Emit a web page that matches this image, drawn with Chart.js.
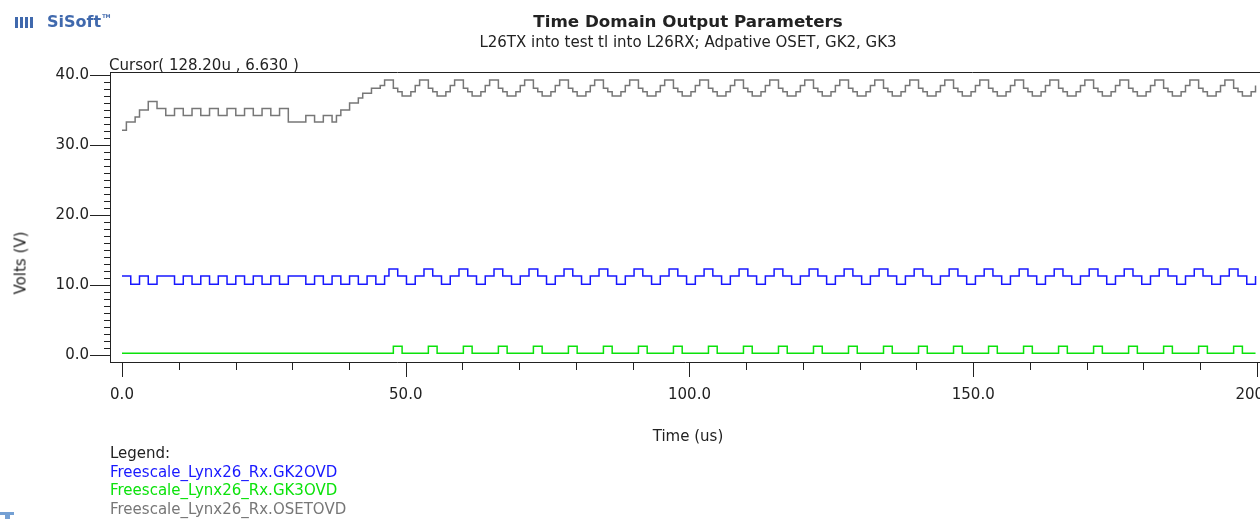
<!DOCTYPE html>
<html lang="en">
<head>
<meta charset="utf-8">
<title>Time Domain Output Parameters</title>
<script src="https://cdn.jsdelivr.net/npm/chart.js@4.4.1/dist/chart.umd.min.js"></script>
<style>
    html, body { margin: 0; padding: 0; background: #fff; overflow: hidden; }
    #page { position: relative; width: 1260px; height: 519px; font-family: 'DejaVu Sans', sans-serif; color: #222; }
    #page canvas { position: absolute; left: 0; top: 0; }
    .label { position: absolute; white-space: nowrap; font-size: 15px; line-height: 15px; }
    #title { left: 688px; top: 13px; font-size: 16.7px; line-height: 16.7px; font-weight: bold; transform: translateX(-50%); }
    #subtitle { left: 688px; top: 35px; transform: translateX(-50%); }
    #cursor { left: 109px; top: 58px; }
    #yTitle { left: 21px; top: 263px; transform: translate(-50%, -50%) rotate(-90deg); }
    #xTitle { left: 688px; top: 429px; transform: translateX(-50%); }
    #legend { position: absolute; left: 110px; top: 444px; font-size: 15px; line-height: 18.5px; white-space: nowrap; }
    #logo { position: absolute; left: 15px; top: 8px; font: bold 16px 'DejaVu Sans', sans-serif; color: #4069ad; line-height: 16px; }
    #logo .mark { display: inline-block; width: 20px; height: 11px; margin-right: 12px; vertical-align: -1px;
        background: repeating-linear-gradient(90deg, #4069ad 0 3px, transparent 3px 5px); }
    #logo sup { font-size: 5px; vertical-align: 9px; margin-left: 1px; }
    .tab-top { position: absolute; left: 0; top: 512px; width: 14px; height: 3px; background: #74a0d4; }
    .tab-stem { position: absolute; left: 5px; top: 515px; width: 5px; height: 4px; background: #74a0d4; }
</style>
</head>
<body>
<div id="page">
    <canvas id="timeDomainChart" width="1260" height="519"></canvas>
    <div id="logo"><span class="mark"></span>SiSoft<sup>TM</sup></div>
    <div id="title" class="label">Time Domain Output Parameters</div>
    <div id="subtitle" class="label">L26TX into test tl into L26RX; Adpative OSET, GK2, GK3</div>
    <div id="cursor" class="label">Cursor( 128.20u , 6.630 )</div>
    <div id="yTitle" class="label">Volts (V)</div>
    <div id="xTitle" class="label">Time (us)</div>
    <div id="legend"><div>Legend:</div></div>
    <div class="tab-top"></div><div class="tab-stem"></div>
</div>
<script>
// === DATA ===
// waveforms sampled every SAMPLE_US microseconds (8 samples per bit pattern period)
const SAMPLE_US = 0.7712;

const gk2Ovd = [
    11.3, 11.3, 10.1, 10.1, 11.3, 11.3, 10.1, 10.1, 11.3, 11.3, 11.3, 11.3, 10.1, 10.1, 11.3, 11.3,
    10.1, 10.1, 11.3, 11.3, 10.1, 10.1, 11.3, 11.3, 10.1, 10.1, 11.3, 11.3, 10.1, 10.1, 11.3, 11.3,
    10.1, 10.1, 11.3, 11.3, 10.1, 10.1, 11.3, 11.3, 11.3, 11.3, 10.1, 10.1, 11.3, 11.3, 10.1, 10.1,
    11.3, 11.3, 10.1, 10.1, 11.3, 11.3, 10.1, 10.1, 11.3, 11.3, 10.1, 10.1, 11.3, 12.3, 12.3, 11.3,
    11.3, 10.1, 10.1, 11.3, 11.3, 12.3, 12.3, 11.3, 11.3, 10.1, 10.1, 11.3, 11.3, 12.3, 12.3, 11.3,
    11.3, 10.1, 10.1, 11.3, 11.3, 12.3, 12.3, 11.3, 11.3, 10.1, 10.1, 11.3, 11.3, 12.3, 12.3, 11.3,
    11.3, 10.1, 10.1, 11.3, 11.3, 12.3, 12.3, 11.3, 11.3, 10.1, 10.1, 11.3, 11.3, 12.3, 12.3, 11.3,
    11.3, 10.1, 10.1, 11.3, 11.3, 12.3, 12.3, 11.3, 11.3, 10.1, 10.1, 11.3, 11.3, 12.3, 12.3, 11.3,
    11.3, 10.1, 10.1, 11.3, 11.3, 12.3, 12.3, 11.3, 11.3, 10.1, 10.1, 11.3, 11.3, 12.3, 12.3, 11.3,
    11.3, 10.1, 10.1, 11.3, 11.3, 12.3, 12.3, 11.3, 11.3, 10.1, 10.1, 11.3, 11.3, 12.3, 12.3, 11.3,
    11.3, 10.1, 10.1, 11.3, 11.3, 12.3, 12.3, 11.3, 11.3, 10.1, 10.1, 11.3, 11.3, 12.3, 12.3, 11.3,
    11.3, 10.1, 10.1, 11.3, 11.3, 12.3, 12.3, 11.3, 11.3, 10.1, 10.1, 11.3, 11.3, 12.3, 12.3, 11.3,
    11.3, 10.1, 10.1, 11.3, 11.3, 12.3, 12.3, 11.3, 11.3, 10.1, 10.1, 11.3, 11.3, 12.3, 12.3, 11.3,
    11.3, 10.1, 10.1, 11.3, 11.3, 12.3, 12.3, 11.3, 11.3, 10.1, 10.1, 11.3, 11.3, 12.3, 12.3, 11.3,
    11.3, 10.1, 10.1, 11.3, 11.3, 12.3, 12.3, 11.3, 11.3, 10.1, 10.1, 11.3, 11.3, 12.3, 12.3, 11.3,
    11.3, 10.1, 10.1, 11.3, 11.3, 12.3, 12.3, 11.3, 11.3, 10.1, 10.1, 11.3, 11.3, 12.3, 12.3, 11.3,
    11.3, 10.1, 10.1, 11.3
];

const gk3Ovd = [
    0.25, 0.25, 0.25, 0.25, 0.25, 0.25, 0.25, 0.25, 0.25, 0.25, 0.25, 0.25, 0.25, 0.25, 0.25, 0.25,
    0.25, 0.25, 0.25, 0.25, 0.25, 0.25, 0.25, 0.25, 0.25, 0.25, 0.25, 0.25, 0.25, 0.25, 0.25, 0.25,
    0.25, 0.25, 0.25, 0.25, 0.25, 0.25, 0.25, 0.25, 0.25, 0.25, 0.25, 0.25, 0.25, 0.25, 0.25, 0.25,
    0.25, 0.25, 0.25, 0.25, 0.25, 0.25, 0.25, 0.25, 0.25, 0.25, 0.25, 0.25, 0.25, 0.25, 1.25, 1.25,
    0.25, 0.25, 0.25, 0.25, 0.25, 0.25, 1.25, 1.25, 0.25, 0.25, 0.25, 0.25, 0.25, 0.25, 1.25, 1.25,
    0.25, 0.25, 0.25, 0.25, 0.25, 0.25, 1.25, 1.25, 0.25, 0.25, 0.25, 0.25, 0.25, 0.25, 1.25, 1.25,
    0.25, 0.25, 0.25, 0.25, 0.25, 0.25, 1.25, 1.25, 0.25, 0.25, 0.25, 0.25, 0.25, 0.25, 1.25, 1.25,
    0.25, 0.25, 0.25, 0.25, 0.25, 0.25, 1.25, 1.25, 0.25, 0.25, 0.25, 0.25, 0.25, 0.25, 1.25, 1.25,
    0.25, 0.25, 0.25, 0.25, 0.25, 0.25, 1.25, 1.25, 0.25, 0.25, 0.25, 0.25, 0.25, 0.25, 1.25, 1.25,
    0.25, 0.25, 0.25, 0.25, 0.25, 0.25, 1.25, 1.25, 0.25, 0.25, 0.25, 0.25, 0.25, 0.25, 1.25, 1.25,
    0.25, 0.25, 0.25, 0.25, 0.25, 0.25, 1.25, 1.25, 0.25, 0.25, 0.25, 0.25, 0.25, 0.25, 1.25, 1.25,
    0.25, 0.25, 0.25, 0.25, 0.25, 0.25, 1.25, 1.25, 0.25, 0.25, 0.25, 0.25, 0.25, 0.25, 1.25, 1.25,
    0.25, 0.25, 0.25, 0.25, 0.25, 0.25, 1.25, 1.25, 0.25, 0.25, 0.25, 0.25, 0.25, 0.25, 1.25, 1.25,
    0.25, 0.25, 0.25, 0.25, 0.25, 0.25, 1.25, 1.25, 0.25, 0.25, 0.25, 0.25, 0.25, 0.25, 1.25, 1.25,
    0.25, 0.25, 0.25, 0.25, 0.25, 0.25, 1.25, 1.25, 0.25, 0.25, 0.25, 0.25, 0.25, 0.25, 1.25, 1.25,
    0.25, 0.25, 0.25, 0.25, 0.25, 0.25, 1.25, 1.25, 0.25, 0.25, 0.25, 0.25, 0.25, 0.25, 1.25, 1.25,
    0.25, 0.25, 0.25, 0.25
];

const osetOvd = [
    32.1, 33.3, 33.3, 34.0, 35.0, 35.0, 36.2, 36.2, 35.2, 35.2, 34.2, 34.2, 35.2, 35.2, 34.2, 34.2,
    35.2, 35.2, 34.2, 34.2, 35.2, 35.2, 34.2, 34.2, 35.2, 35.2, 34.2, 34.2, 35.2, 35.2, 34.2, 34.2,
    35.2, 35.2, 34.2, 34.2, 35.2, 35.2, 33.3, 33.3, 33.3, 33.3, 34.2, 34.2, 33.3, 33.3, 34.2, 34.2,
    33.3, 34.2, 35.0, 35.0, 36.0, 36.0, 36.7, 37.4, 37.4, 38.1, 38.1, 38.5, 39.3, 39.3, 38.1, 37.6,
    37.0, 37.0, 37.6, 38.5, 39.3, 39.3, 38.1, 37.6, 37.0, 37.0, 37.6, 38.5, 39.3, 39.3, 38.1, 37.6,
    37.0, 37.0, 37.6, 38.5, 39.3, 39.3, 38.1, 37.6, 37.0, 37.0, 37.6, 38.5, 39.3, 39.3, 38.1, 37.6,
    37.0, 37.0, 37.6, 38.5, 39.3, 39.3, 38.1, 37.6, 37.0, 37.0, 37.6, 38.5, 39.3, 39.3, 38.1, 37.6,
    37.0, 37.0, 37.6, 38.5, 39.3, 39.3, 38.1, 37.6, 37.0, 37.0, 37.6, 38.5, 39.3, 39.3, 38.1, 37.6,
    37.0, 37.0, 37.6, 38.5, 39.3, 39.3, 38.1, 37.6, 37.0, 37.0, 37.6, 38.5, 39.3, 39.3, 38.1, 37.6,
    37.0, 37.0, 37.6, 38.5, 39.3, 39.3, 38.1, 37.6, 37.0, 37.0, 37.6, 38.5, 39.3, 39.3, 38.1, 37.6,
    37.0, 37.0, 37.6, 38.5, 39.3, 39.3, 38.1, 37.6, 37.0, 37.0, 37.6, 38.5, 39.3, 39.3, 38.1, 37.6,
    37.0, 37.0, 37.6, 38.5, 39.3, 39.3, 38.1, 37.6, 37.0, 37.0, 37.6, 38.5, 39.3, 39.3, 38.1, 37.6,
    37.0, 37.0, 37.6, 38.5, 39.3, 39.3, 38.1, 37.6, 37.0, 37.0, 37.6, 38.5, 39.3, 39.3, 38.1, 37.6,
    37.0, 37.0, 37.6, 38.5, 39.3, 39.3, 38.1, 37.6, 37.0, 37.0, 37.6, 38.5, 39.3, 39.3, 38.1, 37.6,
    37.0, 37.0, 37.6, 38.5, 39.3, 39.3, 38.1, 37.6, 37.0, 37.0, 37.6, 38.5, 39.3, 39.3, 38.1, 37.6,
    37.0, 37.0, 37.6, 38.5, 39.3, 39.3, 38.1, 37.6, 37.0, 37.0, 37.6, 38.5, 39.3, 39.3, 38.1, 37.6,
    37.0, 37.0, 37.6, 38.5
];

const seriesNames = ['Freescale_Lynx26_Rx.GK2OVD', 'Freescale_Lynx26_Rx.GK3OVD', 'Freescale_Lynx26_Rx.OSETOVD'];

const xMajorTicks = [0, 50, 100, 150, 200];
const X_MINOR_STEP = 10;
const yMajorTicks = [0, 10, 20, 30, 40];
const Y_MINOR_STEP = 1;

// === STYLE ===
const COLORS = {
    gk2: '#1818ff',
    gk3: '#0be20b',
    oset: '#777777',
    axis: '#222222',
    text: '#222222'
};
const FONT = { family: "'DejaVu Sans', sans-serif", size: 15 };

document.addEventListener('DOMContentLoaded', function() {
    const chart = initTimeDomainChart();
    buildLegend(chart);
});

function toPoints(values) {
    return values.map((v, i) => ({ x: i * SAMPLE_US, y: v }));
}

// minor/major tick marks drawn outside the frame, plus the top frame line
const frameTicks = {
    id: 'frameTicks',
    afterDraw: function(chart) {
        const ctx = chart.ctx;
        const area = chart.chartArea;
        const xs = chart.scales.x;
        const ys = chart.scales.y;
        const first = xMajorTicks[0], last = xMajorTicks[xMajorTicks.length - 1];
        ctx.save();
        ctx.strokeStyle = COLORS.axis;
        ctx.lineWidth = 1;
        ctx.beginPath();
        const top = Math.round(area.top) + 0.5;
        ctx.moveTo(area.left, top);
        ctx.lineTo(area.right, top);
        for (let t = first; t <= last; t += X_MINOR_STEP) {
            const px = Math.round(xs.getPixelForValue(t)) + 0.5;
            const len = xMajorTicks.includes(t) ? 15 : 8;
            ctx.moveTo(px, area.bottom);
            ctx.lineTo(px, area.bottom + len);
        }
        for (let v = yMajorTicks[0]; v <= yMajorTicks[yMajorTicks.length - 1]; v += Y_MINOR_STEP) {
            const py = Math.round(ys.getPixelForValue(v)) + 0.5;
            const len = yMajorTicks.includes(v) ? 20 : 6;
            ctx.moveTo(area.left - len, py);
            ctx.lineTo(area.left, py);
        }
        ctx.stroke();
        ctx.restore();
    }
};

function initTimeDomainChart() {
    const canvas = document.getElementById('timeDomainChart');

    const lineDefaults = {
        borderWidth: 1.5,
        pointRadius: 0,
        stepped: true,
        fill: false
    };

    return new Chart(canvas, {
        type: 'line',
        data: {
            datasets: [
                { ...lineDefaults, label: seriesNames[0], data: toPoints(gk2Ovd), borderColor: COLORS.gk2 },
                { ...lineDefaults, label: seriesNames[1], data: toPoints(gk3Ovd), borderColor: COLORS.gk3 },
                { ...lineDefaults, label: seriesNames[2], data: toPoints(osetOvd), borderColor: COLORS.oset }
            ]
        },
        options: {
            responsive: false,
            animation: false,
            parsing: false,
            layout: { padding: { left: 0, top: 72, right: 0, bottom: 0 } },
            plugins: {
                legend: { display: false },
                tooltip: { enabled: false }
            },
            scales: {
                x: {
                    type: 'linear',
                    min: -2.115,
                    max: 200.53,
                    grid: { display: false, drawTicks: false },
                    border: { display: true, color: COLORS.axis, width: 1 },
                    ticks: {
                        color: COLORS.text,
                        font: FONT,
                        padding: 24,
                        maxRotation: 0,
                        autoSkip: false,
                        callback: value => value.toFixed(1)
                    },
                    afterBuildTicks: scale => {
                        scale.ticks = xMajorTicks.map(v => ({ value: v }));
                    },
                    afterFit: scale => {
                        scale.height = 157;
                        scale.paddingLeft = 0;
                        scale.paddingRight = 0;
                    }
                },
                y: {
                    type: 'linear',
                    min: -1.0,
                    max: 40.43,
                    grid: { display: false, drawTicks: false },
                    border: { display: true, color: COLORS.axis, width: 1 },
                    ticks: {
                        color: COLORS.text,
                        font: FONT,
                        padding: 21,
                        callback: value => value.toFixed(1)
                    },
                    afterBuildTicks: scale => {
                        scale.ticks = yMajorTicks.map(v => ({ value: v }));
                    },
                    afterFit: scale => {
                        scale.width = 110;
                        scale.paddingTop = 0;
                        scale.paddingBottom = 0;
                    }
                }
            }
        },
        plugins: [frameTicks]
    });
}

function buildLegend(chart) {
    const box = document.getElementById('legend');
    chart.data.datasets.forEach(ds => {
        const row = document.createElement('div');
        row.textContent = ds.label;
        row.style.color = ds.borderColor;
        box.appendChild(row);
    });
}
</script>
</body>
</html>
